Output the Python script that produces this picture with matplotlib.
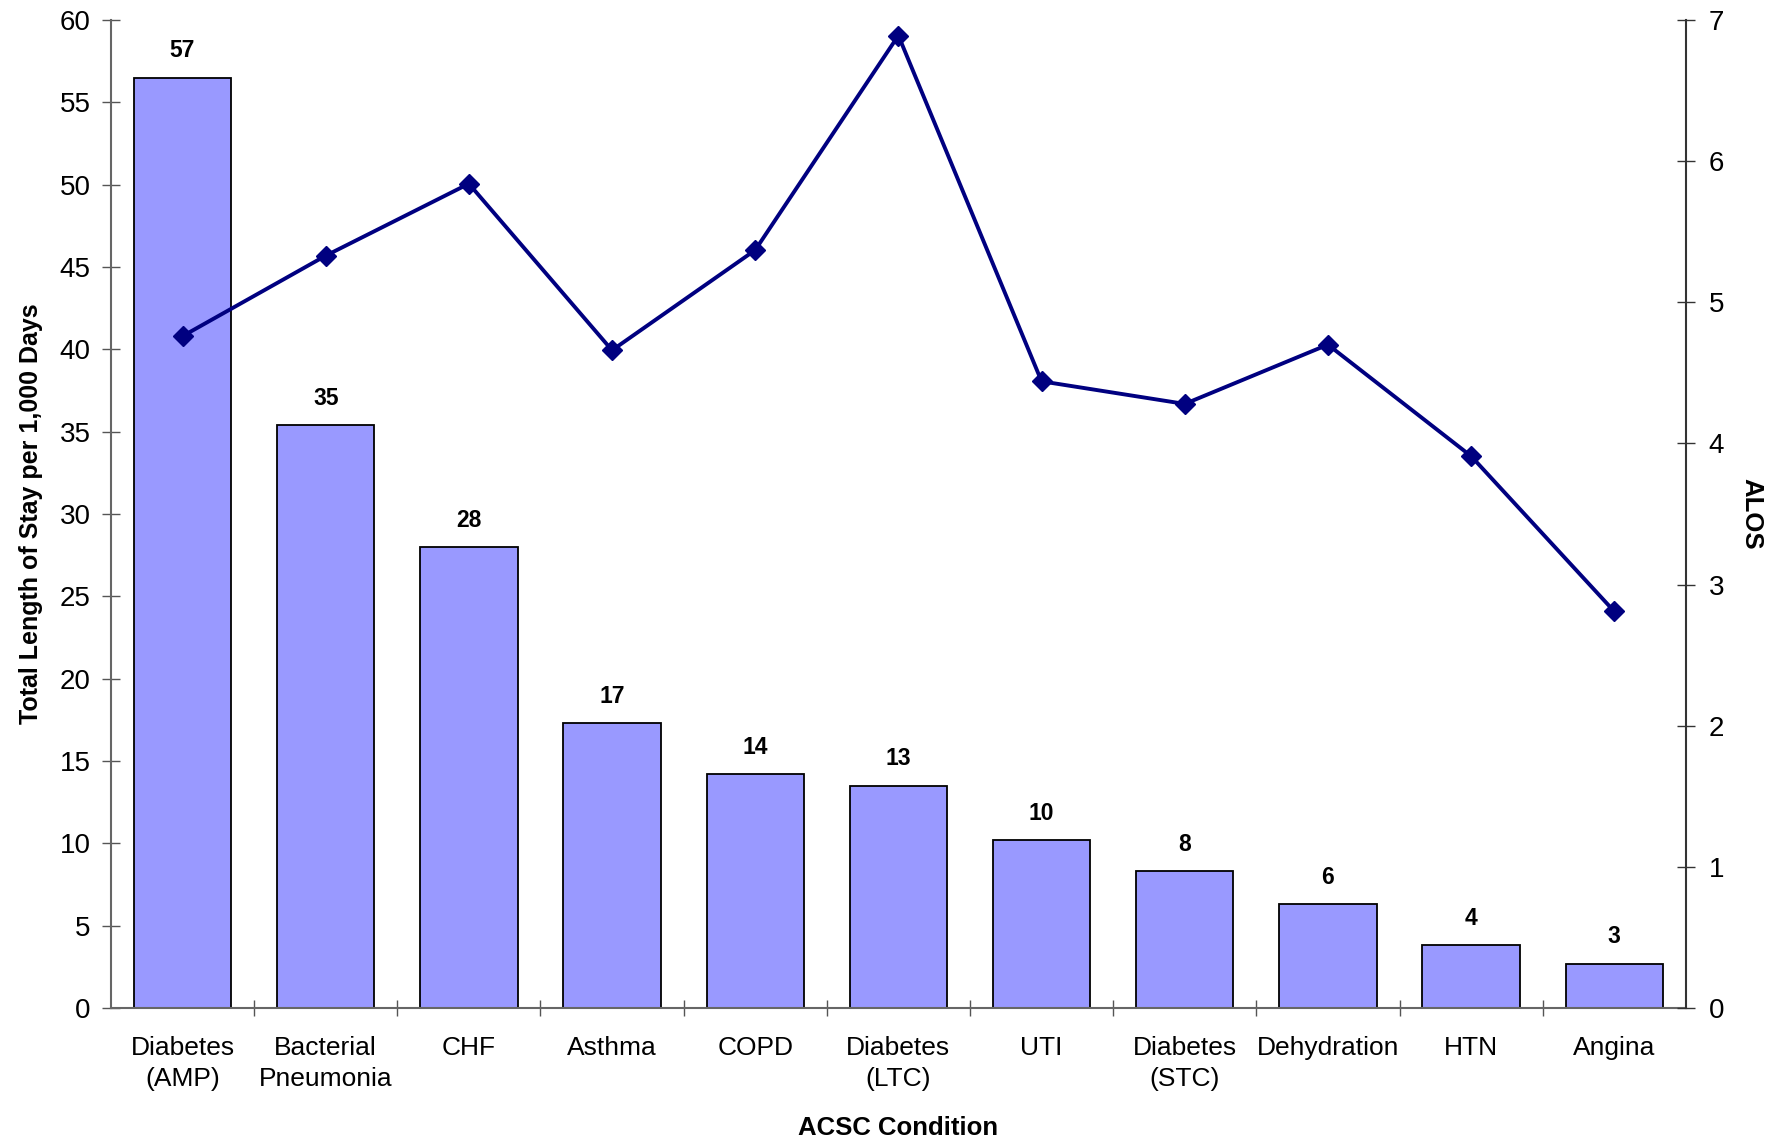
""" ACSC conditions: total length of stay per 1,000 days with ALOS overlay. """

import matplotlib.pyplot as plt

conditions = [
    "Diabetes\n(AMP)", "Bacterial\nPneumonia", "CHF", "Asthma", "COPD",
    "Diabetes\n(LTC)", "UTI", "Diabetes\n(STC)", "Dehydration", "HTN", "Angina",
]
total_los = [56.5, 35.4, 28.0, 17.3, 14.2, 13.5, 10.2, 8.3, 6.3, 3.8, 2.7]
bar_labels = ["57", "35", "28", "17", "14", "13", "10", "8", "6", "4", "3"]
alos = [4.76, 5.33, 5.84, 4.66, 5.37, 6.89, 4.44, 4.28, 4.70, 3.91, 2.81]


def main():
    plt.rcParams["font.family"] = ["Liberation Sans", "DejaVu Sans"]

    fig = plt.figure(figsize=(17.69, 11.42), dpi=100)
    ax = fig.add_axes([0.0627, 0.1173, 0.8903, 0.8652])
    x = list(range(len(conditions)))

    bars = ax.bar(x, total_los, width=0.68, color="#9999FF",
                  edgecolor="black", linewidth=1.3, zorder=2)
    for rect, lab in zip(bars, bar_labels):
        ax.annotate(lab, (rect.get_x() + rect.get_width() / 2, rect.get_height()),
                    xytext=(0, 11), textcoords="offset points",
                    ha="center", va="bottom", fontsize=16.5, fontweight="bold")

    ax.set_xlim(-0.5, len(conditions) - 0.5)
    ax.set_ylim(0, 60)
    ax.set_yticks(range(0, 61, 5))
    ax.set_xticks(x)
    ax.set_xticklabels(conditions, fontsize=19, linespacing=1.4)
    ax.set_xticks([i + 0.5 for i in x[:-1]], minor=True)
    ax.tick_params(axis="x", which="major", length=0, pad=20)
    ax.tick_params(axis="x", which="minor", length=12, direction="inout",
                   width=1, color="#555555")
    ax.tick_params(axis="y", length=13, direction="inout", width=1,
                   labelsize=20, pad=8, color="#555555")

    for side in ["left", "bottom"]:
        ax.spines[side].set_color("#666666")
        ax.spines[side].set_linewidth(1.5)
    ax.spines["top"].set_visible(False)
    ax.spines["right"].set_visible(False)

    ax.set_xlabel("ACSC Condition", fontsize=18.5, fontweight="bold", labelpad=18)
    ax.set_ylabel("Total Length of Stay per 1,000 Days", fontsize=18,
                  fontweight="bold", labelpad=12)

    ax2 = ax.twinx()
    ax2.plot(x, alos, color="#000080", linewidth=2.8, marker="D",
             markersize=10, zorder=3)
    ax2.set_ylim(0, 7)
    ax2.set_yticks(range(0, 8))
    ax2.tick_params(axis="y", length=13, direction="inout", width=1,
                    labelsize=20, pad=10, color="#333333")
    ax2.spines["top"].set_visible(False)
    ax2.spines["left"].set_visible(False)
    ax2.spines["bottom"].set_visible(False)
    ax2.spines["right"].set_color("#333333")
    ax2.spines["right"].set_linewidth(1.5)
    ax2.set_ylabel("ALOS", fontsize=18.5, fontweight="bold", rotation=270,
                   labelpad=28)

    fig.savefig("out.png", dpi=100)


if __name__ == "__main__":
    main()
